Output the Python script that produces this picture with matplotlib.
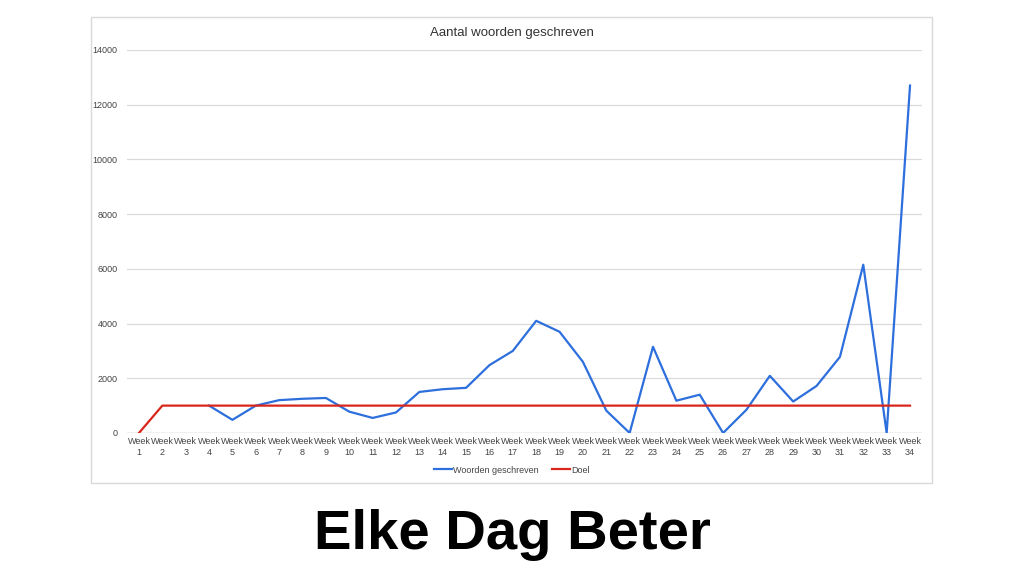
import numpy as np
import matplotlib
matplotlib.use('Agg')
import matplotlib.pyplot as plt
from matplotlib.patches import Rectangle

plt.rcParams['font.family'] = ['Liberation Sans', 'DejaVu Sans']

weeks = ['Week\n%d' % i for i in range(1, 35)]
woorden = [np.nan, np.nan, np.nan, 1000, 480, 1000, 1200, 1250, 1280, 780,
           550, 750, 1500, 1600, 1650, 2480, 3000, 4100, 3700, 2600,
           820, 0, 3150, 1180, 1400, 0, 850, 2090, 1150, 1720,
           2780, 6150, 0, 12700]
doel = [0] + [1000] * 33

fig = plt.figure(figsize=(10.24, 5.76), dpi=100)

# light frame round the chart
fig.patches.append(Rectangle((0.0889, 0.1615), 0.8213, 0.809, transform=fig.transFigure,
                             fill=False, edgecolor='#d9d9d9', linewidth=1.0))

ax = fig.add_axes([0.1243, 0.2483, 0.7758, 0.6649])
x = np.arange(1, 35)
ax.plot(x, woorden, color='#2d6fdc', linewidth=1.6, label='Woorden geschreven', zorder=3)
ax.plot(x, doel, color='#d9261c', linewidth=1.6, label='Doel', zorder=4)

ax.set_xlim(0.5, 34.5)
ax.set_ylim(0, 14000)
ax.set_yticks(range(0, 14001, 2000))
ax.set_xticks(x)
ax.set_xticklabels(weeks, fontsize=6.5, color='#444444', linespacing=1.3)
ax.tick_params(axis='y', labelsize=6.5, colors='#444444', length=0, pad=7)
ax.tick_params(axis='x', length=0, pad=3)
ax.grid(axis='y', color='#dadada', linewidth=0.9)
ax.set_axisbelow(True)
for s in ax.spines.values():
    s.set_visible(False)
ax.axhline(0, color='#cccccc', linewidth=1.0, zorder=1)

fig.text(0.5, 0.943, 'Aantal woorden geschreven', ha='center', va='center',
         fontsize=9.5, color='#333333')

fig.legend(loc='center', bbox_to_anchor=(0.5, 0.184), ncol=2, frameon=False,
           fontsize=6.5, handlelength=2.0, handletextpad=0.1, columnspacing=1.5,
           labelcolor='#444444')

fig.text(0.5, 0.072, 'Elke Dag Beter', ha='center', va='center',
         fontsize=40.5, fontweight='bold', color='black')

fig.savefig('out.png', dpi=100, facecolor='white')
